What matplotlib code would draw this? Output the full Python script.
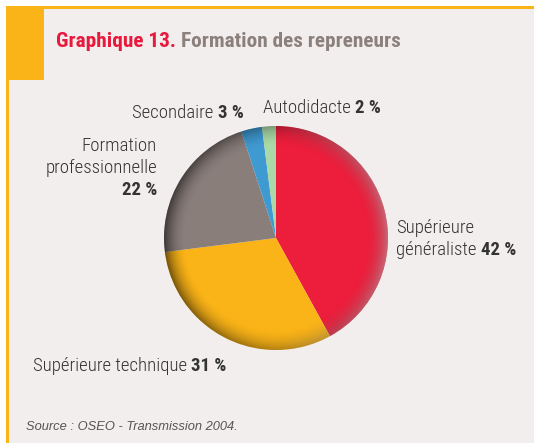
import matplotlib
matplotlib.use("Agg")
import matplotlib.pyplot as plt
import numpy as np
from matplotlib.patches import Rectangle, Circle

categories = ["Supérieure\ngénéraliste", "Supérieure technique", "Formation\nprofessionnelle", "Secondaire", "Autodidacte"]
values = [42, 31, 22, 3, 2]
colors = ["#EC1E3C", "#FBB418", "#8A7E7B", "#3F9AD2", "#A9D9A6"]

FONT = "Roboto Condensed"
W, H = 534, 443
fig = plt.figure(figsize=(W/100, H/100), dpi=100)
fig.patch.set_facecolor("white")

bg = fig.add_axes([0, 0, 1, 1])
bg.set_xlim(0, W); bg.set_ylim(H, 0); bg.axis("off")
bg.add_patch(Rectangle((6, 6), W-6, H-6, facecolor="#F2EEED", edgecolor="none"))
bg.add_patch(Rectangle((6, 6), W-6, 2.5, facecolor="#FBB418", edgecolor="none"))
bg.add_patch(Rectangle((6, 6), 2.5, H-6, facecolor="#FBB418", edgecolor="none"))
bg.add_patch(Rectangle((6, 6), 38, 74, facecolor="#FBB418", edgecolor="none"))

renderer = fig.canvas.get_renderer()

def run(x, y, parts, ha="left", va="baseline"):
    ts = []
    for (s, w, c, sz, st) in parts:
        t = bg.text(x, y, s, fontweight=w, color=c, fontsize=sz, fontstyle=st,
                    family=FONT, ha="left", va=va)
        ts.append(t)
    widths = [t.get_window_extent(renderer).width for t in ts]
    total = sum(widths)
    start = x - total if ha == "right" else x
    cx = start
    for t, wd in zip(ts, widths):
        t.set_x(cx)
        cx += wd

run(56, 47, [("Graphique 13. ", "bold", "#E8193C", 15.3, "normal"),
             ("Formation des repreneurs", "bold", "#8C807D", 15.3, "normal")])

LC = "#333333"
LS = 13.5
LW = "light"
run(244, 118, [("Secondaire ", LW, LC, LS, "normal"), ("3 %", "bold", LC, LS, "normal")], ha="right")
run(263, 113, [("Autodidacte ", LW, LC, LS, "normal"), ("2 %", "bold", LC, LS, "normal")])
bg.text(157, 151, "Formation", family=FONT, fontsize=LS, color=LC, ha="right", va="baseline", fontweight=LW)
bg.text(157, 173, "professionnelle", family=FONT, fontsize=LS, color=LC, ha="right", va="baseline", fontweight=LW)
bg.text(157, 195, "22 %", family=FONT, fontsize=LS, color=LC, ha="right", va="baseline", fontweight="bold")
bg.text(396, 233, "Supérieure", family=FONT, fontsize=LS, color=LC, ha="left", va="baseline", fontweight=LW)
run(396, 255, [("généraliste ", LW, LC, LS, "normal"), ("42 %", "bold", LC, LS, "normal")])
run(33, 371, [("Supérieure technique ", LW, LC, LS, "normal"), ("31 %", "bold", LC, LS, "normal")])
bg.text(26, 430, "Source : OSEO - Transmission 2004.", family="Liberation Sans", fontsize=9.3,
        color="#555555", fontstyle="italic", ha="left", va="baseline")

cx, cy, r = 276, 238, 112
pax = fig.add_axes([(cx-r)/W, (H-cy-r)/H, 2*r/W, 2*r/H])
pax.pie(values, colors=colors, startangle=90, counterclock=False, radius=1,
        wedgeprops=dict(linewidth=0))
pax.set_xlim(-1, 1); pax.set_ylim(-1, 1); pax.axis("off")

n = 400
yy, xx = np.mgrid[-1:1:n*1j, -1:1:n*1j]
rr = np.sqrt(xx**2 + yy**2)
ang = np.arctan2(-yy, xx)
edge = np.clip((rr - 0.8) / 0.2, 0, 1) ** 2
dark_w = 0.5 + 0.5 * np.clip(-np.cos(ang), 0, 1)
img = np.zeros((n, n, 4))
img[..., 3] = edge * 0.55 * dark_w
light = np.zeros((n, n, 4)); light[..., :3] = 1
light[..., 3] = edge * 0.35 * np.clip(np.cos(ang), 0, 1)
clip = Circle((0, 0), 1, transform=pax.transData)
im1 = pax.imshow(img, extent=(-1, 1, -1, 1), origin="upper", zorder=5)
im1.set_clip_path(clip)
im2 = pax.imshow(light, extent=(-1, 1, -1, 1), origin="upper", zorder=6)
im2.set_clip_path(clip)
pax.set_xlim(-1, 1); pax.set_ylim(-1, 1)

fig.savefig("out.png", dpi=100, facecolor=fig.get_facecolor())
